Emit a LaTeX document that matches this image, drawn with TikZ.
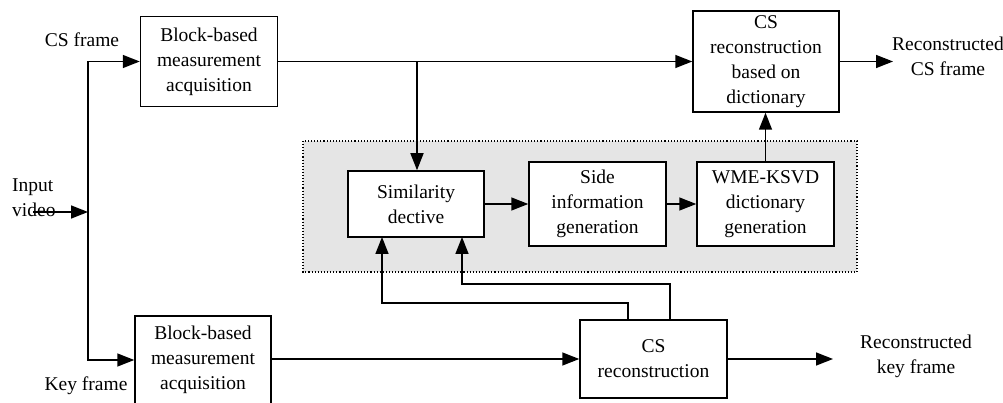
\documentclass[tikz,border=0pt]{standalone}
\usepackage{fontspec}
\setmainfont{Liberation Serif}
\usetikzlibrary{arrows.meta}
\begin{document}
\begin{tikzpicture}[x=1pt,y=-1pt,
  every node/.style={font=\fontsize{19.5}{25}\selectfont, align=center, inner sep=0pt},
  blockbox/.style={draw, line width=1.5pt, fill=white},
  flow/.style={line width=1.5pt, -{Triangle[length=17pt,width=13pt]}}]
\useasboundingbox (0,0) rectangle (1003,403);

% shaded region holding the dictionary-learning stages
\draw[dotted, line width=1.1pt, fill=black!10] (303,141) rectangle (857,272);

% processing blocks
\node[blockbox, minimum width=137pt, minimum height=90pt] (bb1) at (209,61.5) {Block-based\\measurement\\acquisition};
\node[blockbox, minimum width=136pt, minimum height=88pt] (bb2) at (203,360) {Block-based\\measurement\\acquisition};
\node[blockbox, minimum width=136pt, minimum height=66pt] (sim) at (416,204) {Similarity\\dective};
\node[blockbox, minimum width=137pt, minimum height=84pt] (side) at (597.5,204) {Side\\information\\generation};
\node[blockbox, minimum width=137pt, minimum height=84pt] (wme) at (765.5,204) {WME-KSVD\\dictionary\\generation};
\node[blockbox, minimum width=146pt, minimum height=101pt] (csd) at (766,61.5) {CS\\reconstruction\\based on\\dictionary};
\node[blockbox, minimum width=147pt, minimum height=78pt] (csr) at (653.5,359) {CS\\reconstruction};

% text labels
\node (lcs) at (82,40) {CS frame};
\node (lkey) at (86,386) {Key frame};
\node[align=left, anchor=west] (lin) at (12,198) {Input\\video};
\node (outcs) at (948,56) {Reconstructed\\CS frame};
\node (outkey) at (916,356) {Reconstructed\\key frame};

% helper points
\coordinate (src) at (33,212);
\coordinate (split) at (88,212);
\coordinate (tap) at (417,61.5);
\coordinate (endcs) at (893,61.5);
\coordinate (endkey) at (833,359);

% input split
\draw[flow] (src) -- (split);
\draw[flow] (split) |- (bb1.west);
\draw[flow] (split) |- (bb2.west);

% CS frame path
\draw[flow] (bb1.east) -- (csd.west);
\draw[flow] (tap) -- (sim.north -| tap);
\draw[flow] (csd.east) -- (endcs);

% dictionary stages
\draw[flow] (sim.east) -- (side.west);
\draw[flow] (side.east) -- (wme.west);
\draw[flow] (wme.north) -- (csd.south -| wme.north);

% key frame path
\draw[flow] (bb2.east |- csr.west) -- (csr.west);
\draw[flow] (csr.east) -- (endkey);

% feedback from key frame reconstruction
\draw[flow] (628,320) -- (628,303) -- (382,303) -- (382,237);
\draw[flow] (670,320) -- (670,284) -- (462,284) -- (462,237);
\end{tikzpicture}
\end{document}
